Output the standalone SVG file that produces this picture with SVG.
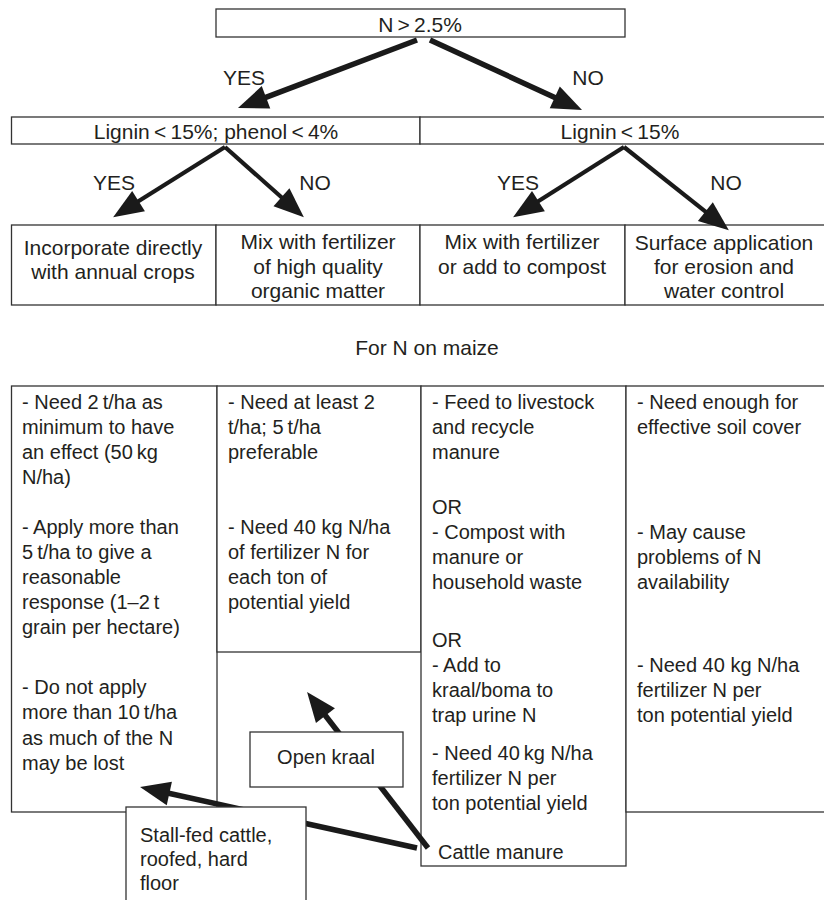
<svg xmlns="http://www.w3.org/2000/svg" width="824" height="900" viewBox="0 0 824 900">
<style>
.box{fill:#fff;stroke:#333;stroke-width:1.3}
text{font-family:'Liberation Sans',Arial,Helvetica,sans-serif;fill:#231f20}
.h{font-size:21px;text-anchor:middle}
.b{font-size:20px}
.c{text-anchor:middle}
.arr{fill:none;stroke:#1a1a1a;stroke-width:5.5;marker-end:url(#ah)}
.arr2{fill:none;stroke:#1a1a1a;stroke-width:4.2;marker-end:url(#ah)}
</style>
<defs>
<marker id="ah" markerUnits="userSpaceOnUse" markerWidth="31" markerHeight="24" refX="3" refY="12" orient="auto" overflow="visible">
<path d="M0,0 L30,12 L0,24 z" fill="#1a1a1a"/>
</marker>
</defs>
<rect width="824" height="900" fill="#fff"/>

<g id="n-root"><rect class="box" x="216" y="9" width="409" height="28"/><text class="h" x="420" y="32">N&#8201;&gt;&#8201;2.5%</text></g>

<g id="n-lig-phen"><rect class="box" x="11.5" y="117" width="408.5" height="27"/><text class="h" x="216" y="139">Lignin&#8201;&lt;&#8201;15%; phenol&#8201;&lt;&#8201;4%</text></g>
<g id="n-lig"><rect class="box" x="420" y="117" width="410" height="27"/><text class="h" x="620" y="139">Lignin&#8201;&lt;&#8201;15%</text></g>

<g id="n-incorp"><rect class="box" x="11.5" y="225" width="204.5" height="80"/><text class="h" x="113" y="255">Incorporate directly</text><text class="h" x="113" y="279">with annual crops</text></g>
<g id="n-mixhq"><rect class="box" x="216" y="225" width="204" height="80"/><text class="h" x="318" y="249">Mix with fertilizer</text><text class="h" x="318" y="274">of high quality</text><text class="h" x="318" y="298">organic matter</text></g>
<g id="n-mixcomp"><rect class="box" x="420" y="225" width="205" height="80"/><text class="h" x="522" y="249">Mix with fertilizer</text><text class="h" x="522" y="274">or add to compost</text></g>
<g id="n-surface"><rect class="box" x="625" y="225" width="205" height="80"/><text class="h" x="724" y="250">Surface application</text><text class="h" x="724" y="274">for erosion and</text><text class="h" x="724" y="298">water control</text></g>

<g id="n-title"><text class="h" x="427" y="355">For N on maize</text></g>

<g id="n-col1"><rect class="box" x="11.5" y="386" width="205.5" height="426"/>
<text class="b" x="22" y="409">- Need 2&#8201;t/ha as</text>
<text class="b" x="22" y="434">minimum to have</text>
<text class="b" x="22" y="459">an effect (50&#8201;kg</text>
<text class="b" x="22" y="484">N/ha)</text>
<text class="b" x="22" y="534">- Apply more than</text>
<text class="b" x="22" y="559">5&#8201;t/ha to give a</text>
<text class="b" x="22" y="584">reasonable</text>
<text class="b" x="22" y="609">response (1–2&#8201;t</text>
<text class="b" x="22" y="634">grain per hectare)</text>
<text class="b" x="22" y="694">- Do not apply</text>
<text class="b" x="22" y="719">more than 10&#8201;t/ha</text>
<text class="b" x="22" y="745">as much of the N</text>
<text class="b" x="22" y="770">may be lost</text>
</g>
<g id="n-col2"><rect class="box" x="217" y="386" width="204" height="266"/>
<text class="b" x="228" y="409">- Need at least 2</text>
<text class="b" x="228" y="434">t/ha; 5&#8201;t/ha</text>
<text class="b" x="228" y="459">preferable</text>
<text class="b" x="228" y="534">- Need 40 kg N/ha</text>
<text class="b" x="228" y="559">of fertilizer N for</text>
<text class="b" x="228" y="584">each ton of</text>
<text class="b" x="228" y="609">potential yield</text>
</g>
<g id="n-col3"><rect class="box" x="421" y="386" width="205" height="480"/>
<text class="b" x="432" y="409">- Feed to livestock</text>
<text class="b" x="432" y="434">and recycle</text>
<text class="b" x="432" y="459">manure</text>
<text class="b" x="432" y="514">OR</text>
<text class="b" x="432" y="539">- Compost with</text>
<text class="b" x="432" y="564">manure or</text>
<text class="b" x="432" y="589">household waste</text>
<text class="b" x="432" y="647">OR</text>
<text class="b" x="432" y="672">- Add to</text>
<text class="b" x="432" y="697">kraal/boma to</text>
<text class="b" x="432" y="722">trap urine N</text>
<text class="b" x="432" y="760">- Need 40&#8201;kg N/ha</text>
<text class="b" x="432" y="785">fertilizer N per</text>
<text class="b" x="432" y="810">ton potential yield</text>
</g>
<g id="n-cattle"><text class="b" x="438" y="859">Cattle manure</text></g>
<g id="n-col4"><rect class="box" x="626" y="386" width="204" height="426"/>
<text class="b" x="637" y="409">- Need enough for</text>
<text class="b" x="637" y="434">effective soil cover</text>
<text class="b" x="637" y="539">- May cause</text>
<text class="b" x="637" y="564">problems of N</text>
<text class="b" x="637" y="589">availability</text>
<text class="b" x="637" y="672">- Need 40 kg N/ha</text>
<text class="b" x="637" y="697">fertilizer N per</text>
<text class="b" x="637" y="722">ton potential yield</text>
</g>

<g id="connectors">
<path class="arr" d="M417,40 L263.2,98.4"/>
<path class="arr" d="M430,40 L557.5,98.7"/>
<text class="h" x="244" y="85">YES</text>
<text class="h" x="588" y="85">NO</text>
<path class="arr2" d="M225,147 L136,202.8"/>
<path class="arr2" d="M225,147 L283.7,199.2"/>
<path class="arr2" d="M624,147 L535.9,202.7"/>
<path class="arr2" d="M624,147 L707.7,213.4"/>
<text class="h" x="114" y="190">YES</text>
<text class="h" x="315" y="190">NO</text>
<text class="h" x="518" y="190">YES</text>
<text class="h" x="726" y="190">NO</text>
<path class="arr" d="M428,848 L323.6,713.3"/>
<path class="arr" d="M417,848 L166.4,792.8"/>
</g>

<g id="n-openkraal"><rect class="box" x="250" y="732" width="153" height="55"/><text class="b c" x="326" y="764">Open kraal</text></g>
<g id="n-stall"><rect class="box" x="126" y="807" width="180" height="100"/>
<text class="b" x="140" y="842">Stall-fed cattle,</text>
<text class="b" x="140" y="866">roofed, hard</text>
<text class="b" x="140" y="890">floor</text>
</g>
</svg>
